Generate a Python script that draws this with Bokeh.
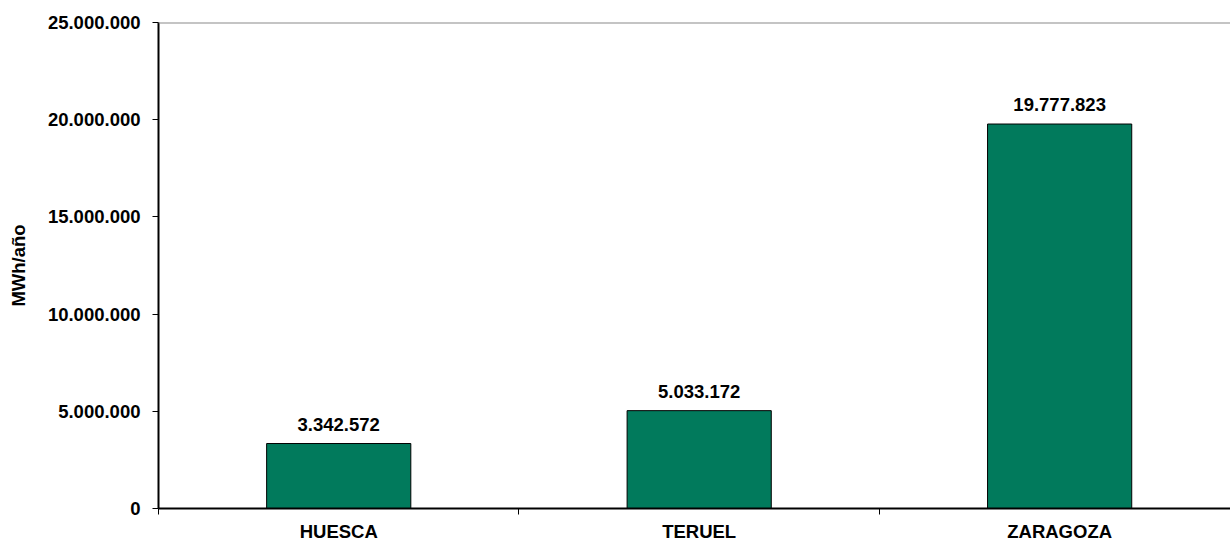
import numpy as np
from bokeh.plotting import figure
from bokeh.models import Range1d, FixedTicker, ColumnDataSource, LabelSet, Span
from bokeh.core.properties import value
from bokeh.embed import file_html
from bokeh.resources import INLINE

categories = ["HUESCA", "TERUEL", "ZARAGOZA"]
values = [3342572, 5033172, 19777823]
y_ticks = [0, 5000000, 10000000, 15000000, 20000000, 25000000]
y_label = "MWh/año"


def fmt(v):
    return f"{v:,}".replace(",", ".")


FONT = "Liberation Sans"
FS = "18.5px"

xpos = np.arange(len(categories)) + 0.5
src = ColumnDataSource(dict(x=xpos, top=values, label=[fmt(v) for v in values]))

p = figure(width=1230, height=544, output_backend="svg", toolbar_location=None,
           x_range=Range1d(0, 2.974), y_range=Range1d(y_ticks[0], y_ticks[-1]),
           min_border_left=158, min_border_right=0, min_border_top=22, min_border_bottom=36)
p.outline_line_color = None
p.background_fill_color = "white"

p.vbar(x="x", top="top", width=0.4, source=src, fill_color="#017A5C",
       line_color="black", line_width=1)

labels = LabelSet(x="x", y="top", text="label", source=src, text_align="center",
                  text_baseline="bottom", y_offset=13, text_font=value(FONT),
                  text_font_style="bold", text_font_size=value(FS), text_color="black")
p.add_layout(labels)

# grids
p.xgrid.visible = False
p.ygrid.visible = False
p.add_layout(Span(location=y_ticks[-1], dimension="width", line_color="#8a8a8a", line_width=2))

# x axis
xa = p.xaxis[0]
xa.ticker = FixedTicker(ticks=list(xpos), minor_ticks=list(range(len(categories) + 1)))
xa.major_label_overrides = {float(x): c for x, c in zip(xpos, categories)}
xa.major_tick_out = 0
xa.major_tick_in = 0
xa.minor_tick_out = 6
xa.minor_tick_in = 0
xa.minor_tick_line_color = "black"
xa.axis_line_color = "black"
xa.axis_line_width = 2
xa.major_label_standoff = 6
xa.major_label_text_font = FONT
xa.major_label_text_font_style = "bold"
xa.major_label_text_font_size = FS
xa.major_label_text_color = "black"

# y axis
ya = p.yaxis[0]
ya.ticker = FixedTicker(ticks=y_ticks)
ya.major_label_overrides = {v: fmt(v) for v in y_ticks}
ya.major_tick_out = 6
ya.major_tick_in = 0
ya.minor_tick_out = 0
ya.minor_tick_in = 0
ya.major_tick_line_color = "black"
ya.axis_line_color = "black"
ya.axis_line_width = 2
ya.major_label_standoff = 12
ya.major_label_text_font = FONT
ya.major_label_text_font_style = "bold"
ya.major_label_text_font_size = FS
ya.major_label_text_color = "black"
ya.axis_label = y_label
ya.axis_label_standoff = 16
ya.axis_label_text_font = FONT
ya.axis_label_text_font_style = "bold"
ya.axis_label_text_font_size = FS
ya.axis_label_text_color = "black"

open("out.html", "w").write(file_html(p, INLINE))
